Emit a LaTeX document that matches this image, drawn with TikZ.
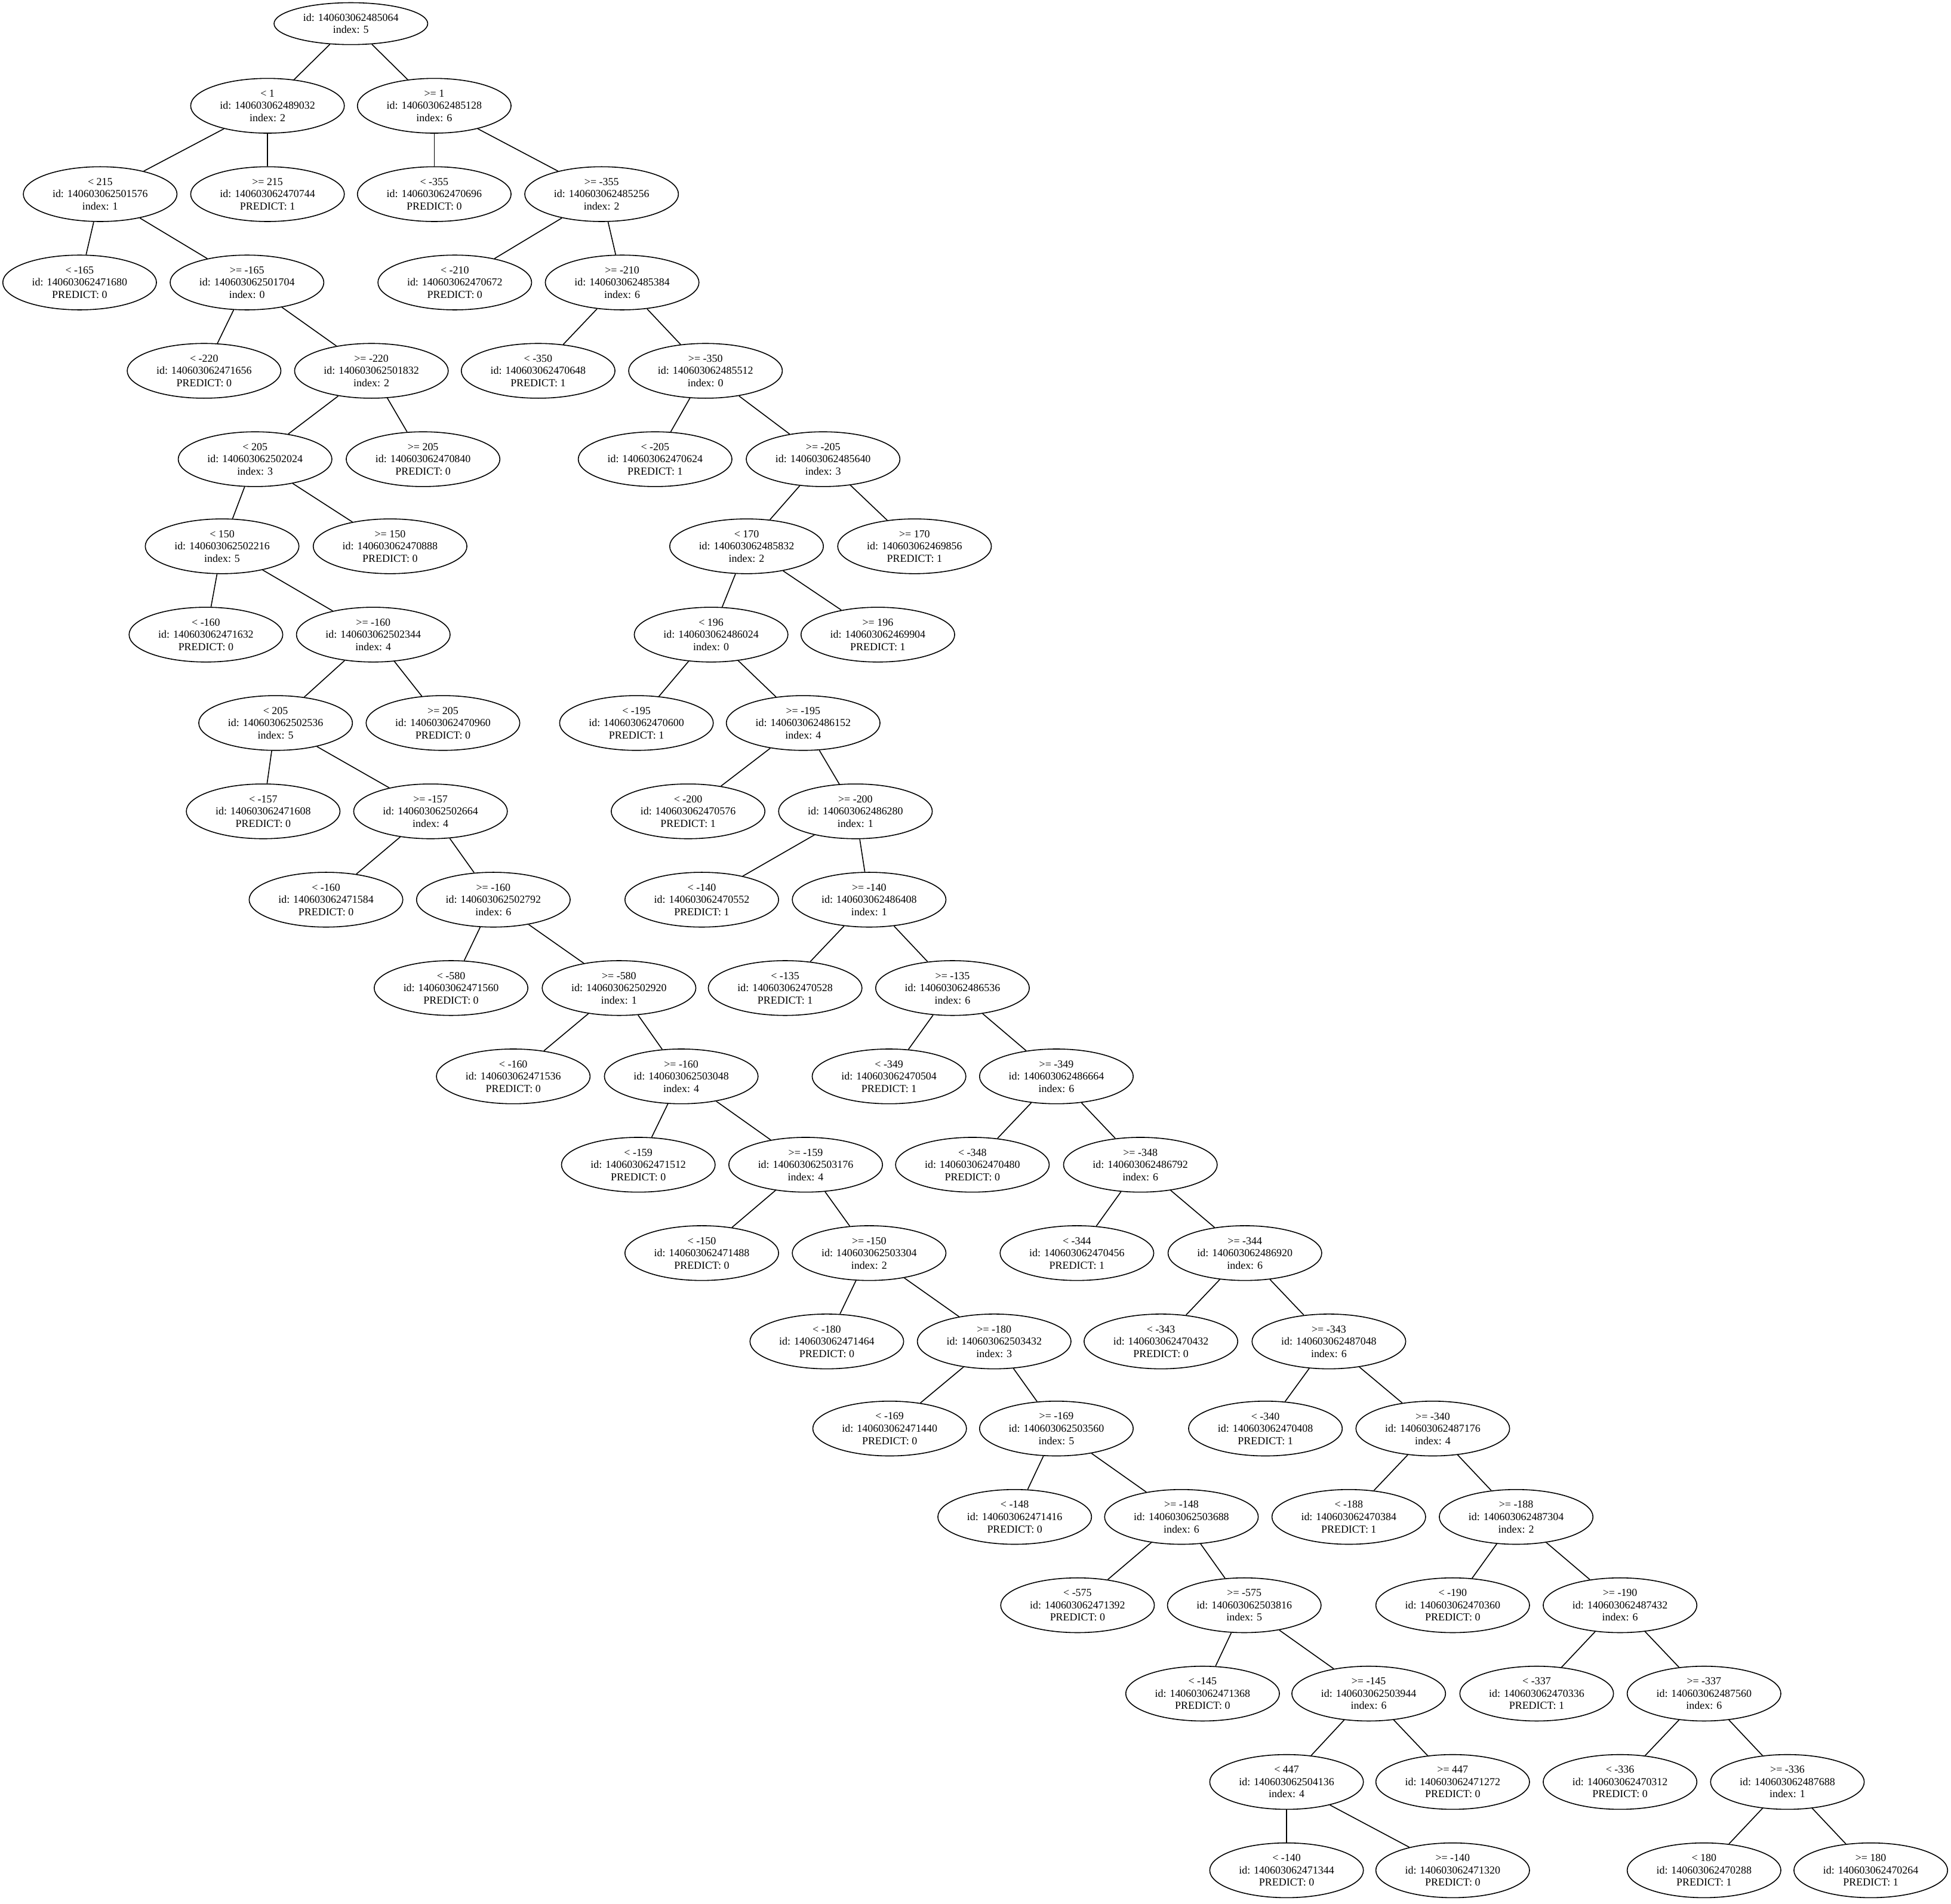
\documentclass[tikz,border=0pt]{standalone}
\usepackage{fontspec}
\setmainfont{Liberation Serif}
\usepackage{tikz}
\usetikzlibrary{shapes.geometric}

\begin{document}
\begin{tikzpicture}[x=0.03cm,y=-0.03cm,line width=0.65pt,
 font=\fontsize{7.35}{8.4}\selectfont,
 dnode/.style={ellipse,draw,align=center,inner sep=0pt,
  minimum width=3.705cm,minimum height=1.32cm},
 droot/.style={dnode,minimum height=1.01cm}]
\useasboundingbox (0,0) rectangle (1568,1530);
% root
\node[droot] (n485064) at (282,19) {id: 140603062485064\\index: 5};
% level 1
\node[dnode] (n489032) at (215,85) {< 1\\id: 140603062489032\\index: 2};
\node[dnode] (n485128) at (349,85) {>= 1\\id: 140603062485128\\index: 6};
% level 2
\node[dnode] (n501576) at (80.5,156) {< 215\\id: 140603062501576\\index: 1};
\node[dnode] (n470744) at (215,156) {>= 215\\id: 140603062470744\\PREDICT: 1};
\node[dnode] (n470696) at (349,156) {< -355\\id: 140603062470696\\PREDICT: 0};
\node[dnode] (n485256) at (483.5,156) {>= -355\\id: 140603062485256\\index: 2};
% level 3
\node[dnode] (n471680) at (64,227) {< -165\\id: 140603062471680\\PREDICT: 0};
\node[dnode] (n501704) at (198.5,227) {>= -165\\id: 140603062501704\\index: 0};
\node[dnode] (n470672) at (365.5,227) {< -210\\id: 140603062470672\\PREDICT: 0};
\node[dnode] (n485384) at (500,227) {>= -210\\id: 140603062485384\\index: 6};
% level 4
\node[dnode] (n471656) at (164,298) {< -220\\id: 140603062471656\\PREDICT: 0};
\node[dnode] (n501832) at (298.5,298) {>= -220\\id: 140603062501832\\index: 2};
\node[dnode] (n470648) at (432.5,298) {< -350\\id: 140603062470648\\PREDICT: 1};
\node[dnode] (n485512) at (567,298) {>= -350\\id: 140603062485512\\index: 0};
% level 5
\node[dnode] (n502024) at (205,369) {< 205\\id: 140603062502024\\index: 3};
\node[dnode] (n470840) at (340,369) {>= 205\\id: 140603062470840\\PREDICT: 0};
\node[dnode] (n470624) at (526.5,369) {< -205\\id: 140603062470624\\PREDICT: 1};
\node[dnode] (n485640) at (661.5,369) {>= -205\\id: 140603062485640\\index: 3};
% level 6
\node[dnode] (n502216) at (178.5,439) {< 150\\id: 140603062502216\\index: 5};
\node[dnode] (n470888) at (313.5,439) {>= 150\\id: 140603062470888\\PREDICT: 0};
\node[dnode] (n485832) at (600,439) {< 170\\id: 140603062485832\\index: 2};
\node[dnode] (n469856) at (735,439) {>= 170\\id: 140603062469856\\PREDICT: 1};
% level 7
\node[dnode] (n471632) at (165.5,510) {< -160\\id: 140603062471632\\PREDICT: 0};
\node[dnode] (n502344) at (300,510) {>= -160\\id: 140603062502344\\index: 4};
\node[dnode] (n486024) at (571.5,510) {< 196\\id: 140603062486024\\index: 0};
\node[dnode] (n469904) at (705.5,510) {>= 196\\id: 140603062469904\\PREDICT: 1};
% level 8
\node[dnode] (n502536) at (221.5,581) {< 205\\id: 140603062502536\\index: 5};
\node[dnode] (n470960) at (356,581) {>= 205\\id: 140603062470960\\PREDICT: 0};
\node[dnode] (n470600) at (511.5,581) {< -195\\id: 140603062470600\\PREDICT: 1};
\node[dnode] (n486152) at (645.5,581) {>= -195\\id: 140603062486152\\index: 4};
% level 9
\node[dnode] (n471608) at (211.5,652) {< -157\\id: 140603062471608\\PREDICT: 0};
\node[dnode] (n502664) at (346,652) {>= -157\\id: 140603062502664\\index: 4};
\node[dnode] (n470576) at (553,652) {< -200\\id: 140603062470576\\PREDICT: 1};
\node[dnode] (n486280) at (687.5,652) {>= -200\\id: 140603062486280\\index: 1};
% level 10
\node[dnode] (n471584) at (262,723) {< -160\\id: 140603062471584\\PREDICT: 0};
\node[dnode] (n502792) at (396.5,723) {>= -160\\id: 140603062502792\\index: 6};
\node[dnode] (n470552) at (564,723) {< -140\\id: 140603062470552\\PREDICT: 1};
\node[dnode] (n486408) at (698.5,723) {>= -140\\id: 140603062486408\\index: 1};
% level 11
\node[dnode] (n471560) at (362.5,794) {< -580\\id: 140603062471560\\PREDICT: 0};
\node[dnode] (n502920) at (497.5,794) {>= -580\\id: 140603062502920\\index: 1};
\node[dnode] (n470528) at (631,794) {< -135\\id: 140603062470528\\PREDICT: 1};
\node[dnode] (n486536) at (765.5,794) {>= -135\\id: 140603062486536\\index: 6};
% level 12
\node[dnode] (n471536) at (412.5,865) {< -160\\id: 140603062471536\\PREDICT: 0};
\node[dnode] (n503048) at (547.5,865) {>= -160\\id: 140603062503048\\index: 4};
\node[dnode] (n470504) at (714.5,865) {< -349\\id: 140603062470504\\PREDICT: 1};
\node[dnode] (n486664) at (849,865) {>= -349\\id: 140603062486664\\index: 6};
% level 13
\node[dnode] (n471512) at (513,936) {< -159\\id: 140603062471512\\PREDICT: 0};
\node[dnode] (n503176) at (647.5,936) {>= -159\\id: 140603062503176\\index: 4};
\node[dnode] (n470480) at (781.5,936) {< -348\\id: 140603062470480\\PREDICT: 0};
\node[dnode] (n486792) at (916.5,936) {>= -348\\id: 140603062486792\\index: 6};
% level 14
\node[dnode] (n471488) at (564,1007) {< -150\\id: 140603062471488\\PREDICT: 0};
\node[dnode] (n503304) at (698.5,1007) {>= -150\\id: 140603062503304\\index: 2};
\node[dnode] (n470456) at (865.5,1007) {< -344\\id: 140603062470456\\PREDICT: 1};
\node[dnode] (n486920) at (1000.5,1007) {>= -344\\id: 140603062486920\\index: 6};
% level 15
\node[dnode] (n471464) at (664.5,1078) {< -180\\id: 140603062471464\\PREDICT: 0};
\node[dnode] (n503432) at (799,1078) {>= -180\\id: 140603062503432\\index: 3};
\node[dnode] (n470432) at (933,1078) {< -343\\id: 140603062470432\\PREDICT: 0};
\node[dnode] (n487048) at (1068,1078) {>= -343\\id: 140603062487048\\index: 6};
% level 16
\node[dnode] (n471440) at (715,1148) {< -169\\id: 140603062471440\\PREDICT: 0};
\node[dnode] (n503560) at (849,1148) {>= -169\\id: 140603062503560\\index: 5};
\node[dnode] (n470408) at (1017,1148) {< -340\\id: 140603062470408\\PREDICT: 1};
\node[dnode] (n487176) at (1151.5,1148) {>= -340\\id: 140603062487176\\index: 4};
% level 17
\node[dnode] (n471416) at (815.5,1219) {< -148\\id: 140603062471416\\PREDICT: 0};
\node[dnode] (n503688) at (949.5,1219) {>= -148\\id: 140603062503688\\index: 6};
\node[dnode] (n470384) at (1084,1219) {< -188\\id: 140603062470384\\PREDICT: 1};
\node[dnode] (n487304) at (1218.5,1219) {>= -188\\id: 140603062487304\\index: 2};
% level 18
\node[dnode] (n471392) at (866,1290) {< -575\\id: 140603062471392\\PREDICT: 0};
\node[dnode] (n503816) at (1000,1290) {>= -575\\id: 140603062503816\\index: 5};
\node[dnode] (n470360) at (1167.5,1290) {< -190\\id: 140603062470360\\PREDICT: 0};
\node[dnode] (n487432) at (1302,1290) {>= -190\\id: 140603062487432\\index: 6};
% level 19
\node[dnode] (n471368) at (966.5,1361) {< -145\\id: 140603062471368\\PREDICT: 0};
\node[dnode] (n503944) at (1100,1361) {>= -145\\id: 140603062503944\\index: 6};
\node[dnode] (n470336) at (1235,1361) {< -337\\id: 140603062470336\\PREDICT: 1};
\node[dnode] (n487560) at (1369.5,1361) {>= -337\\id: 140603062487560\\index: 6};
% level 20
\node[dnode] (n504136) at (1034,1432) {< 447\\id: 140603062504136\\index: 4};
\node[dnode] (n471272) at (1167.5,1432) {>= 447\\id: 140603062471272\\PREDICT: 0};
\node[dnode] (n470312) at (1302,1432) {< -336\\id: 140603062470312\\PREDICT: 0};
\node[dnode] (n487688) at (1436.5,1432) {>= -336\\id: 140603062487688\\index: 1};
% level 21
\node[dnode] (n471344) at (1034,1503) {< -140\\id: 140603062471344\\PREDICT: 0};
\node[dnode] (n471320) at (1167.5,1503) {>= -140\\id: 140603062471320\\PREDICT: 0};
\node[dnode] (n470288) at (1369.5,1503) {< 180\\id: 140603062470288\\PREDICT: 1};
\node[dnode] (n470264) at (1503.5,1503) {>= 180\\id: 140603062470264\\PREDICT: 1};
% edges
\foreach \p/\c in {485064/489032,485064/485128,
 489032/501576,489032/470744,485128/470696,485128/485256,
 501576/471680,501576/501704,485256/470672,485256/485384,
 501704/471656,501704/501832,485384/470648,485384/485512,
 501832/502024,501832/470840,485512/470624,485512/485640,
 502024/502216,502024/470888,485640/485832,485640/469856,
 502216/471632,502216/502344,485832/486024,485832/469904,
 502344/502536,502344/470960,486024/470600,486024/486152,
 502536/471608,502536/502664,486152/470576,486152/486280,
 502664/471584,502664/502792,486280/470552,486280/486408,
 502792/471560,502792/502920,486408/470528,486408/486536,
 502920/471536,502920/503048,486536/470504,486536/486664,
 503048/471512,503048/503176,486664/470480,486664/486792,
 503176/471488,503176/503304,486792/470456,486792/486920,
 503304/471464,503304/503432,486920/470432,486920/487048,
 503432/471440,503432/503560,487048/470408,487048/487176,
 503560/471416,503560/503688,487176/470384,487176/487304,
 503688/471392,503688/503816,487304/470360,487304/487432,
 503816/471368,503816/503944,487432/470336,487432/487560,
 503944/504136,503944/471272,487560/470312,487560/487688,
 504136/471344,504136/471320,487688/470288,487688/470264}
 \draw (n\p) -- (n\c);
\end{tikzpicture}
\end{document}
